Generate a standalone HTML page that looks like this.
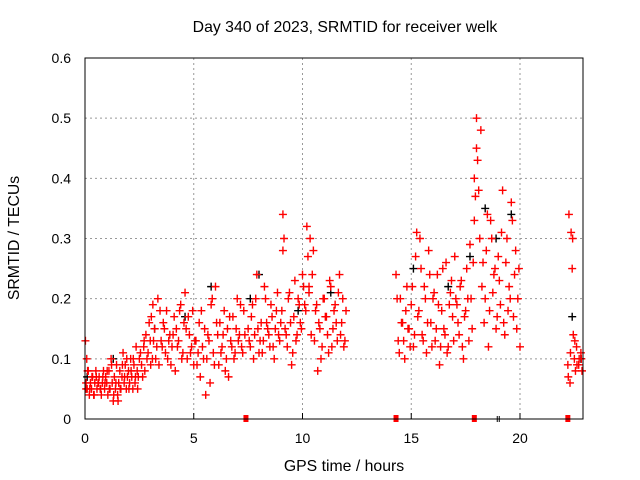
<!DOCTYPE html>
<html><head><meta charset="utf-8"><style>
body{margin:0;background:#fff}
svg{display:block;font-family:"Liberation Sans",sans-serif}
</style></head><body>
<svg id="chart" width="640" height="480">
<rect x="0" y="0" width="640" height="480" fill="#fff"/>
<text x="345" y="32" font-size="15.8" text-anchor="middle" fill="#000">Day 340 of 2023, SRMTID for receiver welk</text>
<text transform="translate(19,238) rotate(-90)" font-size="15.8" text-anchor="middle" fill="#000">SRMTID / TECUs</text>
<text x="344" y="471" font-size="15.8" text-anchor="middle" fill="#000">GPS time / hours</text>
<g id="grid"></g>
<g id="ticks"></g>
<g id="marks"></g>
<rect x="85" y="58" width="498" height="361" fill="none" stroke="#000" stroke-width="1"/>
</svg>
<script>
const xTicks=[0,5,10,15,20];
const yTicks=[0,0.1,0.2,0.3,0.4,0.5,0.6];
const yTickLabels=["0","0.1","0.2","0.3","0.4","0.5","0.6"];
const redT=[0.02,0.05,0.08,0.1,0.15,0.2,0.25,0.3,0.35,0.4,0.45,0.5,0.55,0.6,0.65,0.7,0.75,0.8,0.85,0.9,0.95,1.0,1.05,1.1,1.15,1.2,1.25,1.3,1.35,1.4,1.45,1.5,1.55,1.6,1.65,1.7,1.75,1.8,1.85,1.9,1.95,2.0,2.05,2.1,2.15,2.2,2.25,2.3,2.35,2.4,2.45,2.5,
2.6,2.7,2.75,2.8,2.9,3.0,3.05,3.1,3.2,3.3,3.35,3.4,3.5,3.6,3.7,3.75,3.8,3.9,4.0,4.1,4.15,4.2,4.3,4.4,4.5,4.55,4.6,4.7,4.8,4.9,4.95,5.0,5.1,5.2,5.25,5.3,5.4,5.5,5.55,5.6,5.7,5.8,5.9,6.0,6.1,6.15,6.2,6.3,6.4,6.5,6.55,6.6,6.7,6.8,6.9,7.0,7.1,7.2,7.3,
7.5,7.6,7.7,7.8,7.9,8.0,8.1,8.2,8.3,8.4,8.5,8.6,8.7,8.8,8.9,9.0,9.1,9.15,9.2,9.3,9.4,9.5,9.6,9.7,9.8,9.9,10.0,10.1,10.2,10.25,10.3,10.4,10.5,10.6,10.7,10.8,10.9,11.0,11.1,11.2,11.3,11.4,11.5,11.6,11.7,11.8,11.9,12.0,
14.3,14.4,14.5,14.6,14.7,14.8,14.9,15.0,15.1,15.2,15.3,15.4,15.5,15.6,15.7,15.8,15.9,16.0,16.1,16.2,16.3,16.4,16.5,16.6,16.7,16.8,16.9,17.0,17.1,17.2,17.3,17.4,17.5,17.6,17.7,17.8,17.9,18.0,18.05,18.1,18.2,18.3,18.4,18.5,18.6,18.7,18.8,18.9,19.0,19.1,19.2,19.3,19.4,19.5,19.6,19.7,19.8,19.9,20.0,
22.2,22.25,22.3,22.35,22.4,22.45,22.5,22.55,22.6,22.7,22.8,22.85];
const redV=[0.13,0.06,0.1,0.05,0.08,0.04,0.06,0.05,0.07,0.04,0.06,0.08,0.05,0.06,0.07,0.05,0.04,0.06,0.08,0.05,0.07,0.06,0.04,0.08,0.05,0.1,0.06,0.03,0.07,0.05,0.09,0.04,0.06,0.08,0.05,0.07,0.11,0.06,0.09,0.05,0.07,0.08,0.06,0.1,0.07,0.05,0.09,0.06,0.12,0.08,0.07,0.1,
0.09,0.12,0.08,0.14,0.11,0.13,0.17,0.1,0.15,0.12,0.2,0.09,0.13,0.16,0.11,0.18,0.1,0.14,0.12,0.17,0.08,0.15,0.13,0.19,0.11,0.16,0.21,0.1,0.14,0.12,0.18,0.09,0.13,0.11,0.16,0.07,0.12,0.15,0.04,0.1,0.13,0.19,0.11,0.22,0.14,0.09,0.16,0.12,0.18,0.1,0.15,0.07,0.13,0.17,0.11,0.2,0.14,0.12,0.18,
0.15,0.12,0.19,0.14,0.24,0.11,0.16,0.13,0.2,0.15,0.12,0.17,0.1,0.18,0.14,0.16,0.34,0.3,0.15,0.12,0.21,0.09,0.17,0.13,0.2,0.16,0.24,0.19,0.32,0.27,0.22,0.14,0.28,0.18,0.08,0.15,0.12,0.2,0.17,0.11,0.22,0.15,0.19,0.13,0.24,0.16,0.12,0.18,
0.24,0.13,0.2,0.16,0.1,0.22,0.15,0.19,0.12,0.27,0.17,0.3,0.14,0.22,0.11,0.28,0.16,0.2,0.13,0.24,0.09,0.18,0.15,0.26,0.12,0.21,0.17,0.27,0.19,0.14,0.23,0.1,0.18,0.2,0.29,0.15,0.33,0.5,0.43,0.38,0.48,0.26,0.2,0.34,0.18,0.3,0.24,0.15,0.27,0.19,0.38,0.14,0.3,0.22,0.36,0.17,0.28,0.2,0.12,
0.09,0.34,0.06,0.31,0.25,0.14,0.1,0.08,0.12,0.09,0.11,0.08];
const red2T=[0.05,0.12,0.22,0.32,0.42,0.52,0.62,0.72,0.82,0.92,1.02,1.12,1.22,1.32,1.42,1.52,1.62,1.72,1.82,1.92,2.02,2.12,2.22,2.32,2.42,2.55,2.65,2.72,2.85,2.95,3.02,3.12,3.15,3.25,3.45,3.55,3.65,3.85,3.95,4.05,4.25,4.35,4.45,4.65,4.75,4.85,5.05,5.15,5.35,5.45,5.65,5.75,5.85,5.95,6.05,6.25,6.35,6.45,6.65,6.75,6.85,6.95,7.05,7.15,7.25,7.35,
7.55,7.65,7.75,7.85,7.95,8.05,8.15,8.25,8.35,8.45,8.55,8.65,8.75,8.85,8.95,9.05,9.1,9.25,9.35,9.45,9.55,9.65,9.75,9.85,9.95,10.05,10.15,10.3,10.35,10.45,10.55,10.65,10.75,10.85,10.95,11.05,11.15,11.25,11.35,11.45,11.55,11.65,11.75,11.85,11.95,
14.35,14.45,14.55,14.65,14.75,14.85,14.95,15.05,15.15,15.25,15.35,15.45,15.55,15.65,15.75,15.85,15.95,16.05,16.15,16.25,16.35,16.45,16.55,16.65,16.75,16.85,16.95,17.05,17.15,17.25,17.35,17.45,17.55,17.65,17.75,17.85,17.9,17.95,18.0,18.15,18.25,18.35,18.45,18.55,18.65,18.75,18.85,18.95,19.05,19.15,19.25,19.35,19.45,19.55,19.65,19.75,19.85,19.95,
22.22,22.32,22.42,22.52,22.62,22.72,22.82];
const red2V=[0.05,0.08,0.05,0.07,0.04,0.07,0.06,0.05,0.07,0.06,0.08,0.05,0.09,0.04,0.06,0.03,0.05,0.09,0.07,0.1,0.05,0.08,0.1,0.07,0.05,0.11,0.07,0.13,0.1,0.16,0.09,0.19,0.13,0.1,0.18,0.12,0.15,0.13,0.09,0.14,0.12,0.18,0.1,0.15,0.17,0.11,0.13,0.09,0.18,0.1,0.14,0.06,0.2,0.09,0.16,0.11,0.14,0.08,0.17,0.12,0.1,0.15,0.13,0.19,0.11,0.14,
0.13,0.17,0.1,0.2,0.15,0.13,0.11,0.22,0.16,0.14,0.19,0.12,0.15,0.21,0.13,0.18,0.28,0.14,0.2,0.16,0.11,0.23,0.14,0.19,0.15,0.22,0.18,0.21,0.3,0.24,0.13,0.19,0.16,0.1,0.2,0.17,0.14,0.23,0.12,0.18,0.16,0.21,0.14,0.2,0.13,
0.2,0.11,0.16,0.13,0.18,0.15,0.12,0.22,0.14,0.31,0.18,0.25,0.13,0.2,0.16,0.24,0.12,0.21,0.15,0.19,0.12,0.25,0.14,0.11,0.19,0.23,0.13,0.2,0.16,0.22,0.12,0.17,0.25,0.13,0.2,0.26,0.4,0.37,0.45,0.3,0.22,0.16,0.28,0.12,0.33,0.21,0.25,0.17,0.23,0.31,0.16,0.26,0.18,0.2,0.33,0.24,0.15,0.25,
0.07,0.11,0.3,0.13,0.09,0.1,0.1];
const blackT=[0.1,1.3,3.2,4.6,5.8,7.6,8.0,9.8,11.3,15.1,16.7,17.7,18.4,18.9,19.6,22.4,22.8];
const blackV=[0.07,0.1,0.15,0.17,0.22,0.2,0.24,0.18,0.21,0.25,0.22,0.27,0.35,0.3,0.34,0.17,0.1];
const gapT=[7.4,14.3,17.9,22.2];
const X0=85,XS=21.75,Y0=419,YS=601.7;
function sx(t){return X0+t*XS;}
function sy(v){return Y0-v*YS;}
const NS="http://www.w3.org/2000/svg";
const grid=document.getElementById('grid'),ticks=document.getElementById('ticks'),marks=document.getElementById('marks');
function mk(tag,attrs,parent){const e=document.createElementNS(NS,tag);for(const k in attrs)e.setAttribute(k,attrs[k]);parent.appendChild(e);return e;}
xTicks.forEach(t=>{
  if(t>0){const g=mk('line',{x1:sx(t),x2:sx(t),y1:58,y2:419,stroke:'#999','stroke-dasharray':'2,3'},grid);
  
  }
  const l=mk('line',{x1:sx(t),x2:sx(t),y1:419,y2:413,stroke:'#000'},ticks);
  
  
  const tx=mk('text',{x:sx(t),y:443,'font-size':14,'text-anchor':'middle'},ticks);tx.textContent=String(t);
  
  
});
yTicks.forEach((v,i)=>{
  if(v>0&&v<0.6){const g=mk('line',{x1:85,x2:583,y1:sy(v),y2:sy(v),stroke:'#999','stroke-dasharray':'2,3'},grid);
  
  }
  const tx=mk('text',{x:71,y:sy(v)+5,'font-size':14,'text-anchor':'end'},ticks);tx.textContent=yTickLabels[i];
  
  
});
function cross(t,v,c,name){
  const x=sx(t),y=sy(v);
  const p=mk('path',{d:`M${x-4},${y}H${x+4}M${x},${y-4}V${y+4}`,stroke:c,'stroke-width':1.4},marks);
  
  
}
blackT.forEach((t,i)=>cross(t,blackV[i],'#000','black-point'));
redT.forEach((t,i)=>cross(t,redV[i],'#f00','red-point'));
red2T.forEach((t,i)=>cross(t,red2V[i],'#f00','red-point'));
gapT.forEach(t=>{
  const r=mk('rect',{x:sx(t)-2.5,y:415,width:5,height:7,fill:'#f00'},marks);
  
  
});
const b=mk('path',{d:`M${sx(19)-1},416V422M${sx(19)+1},416V422`,stroke:'#000'},marks);


</script>
</body></html>
